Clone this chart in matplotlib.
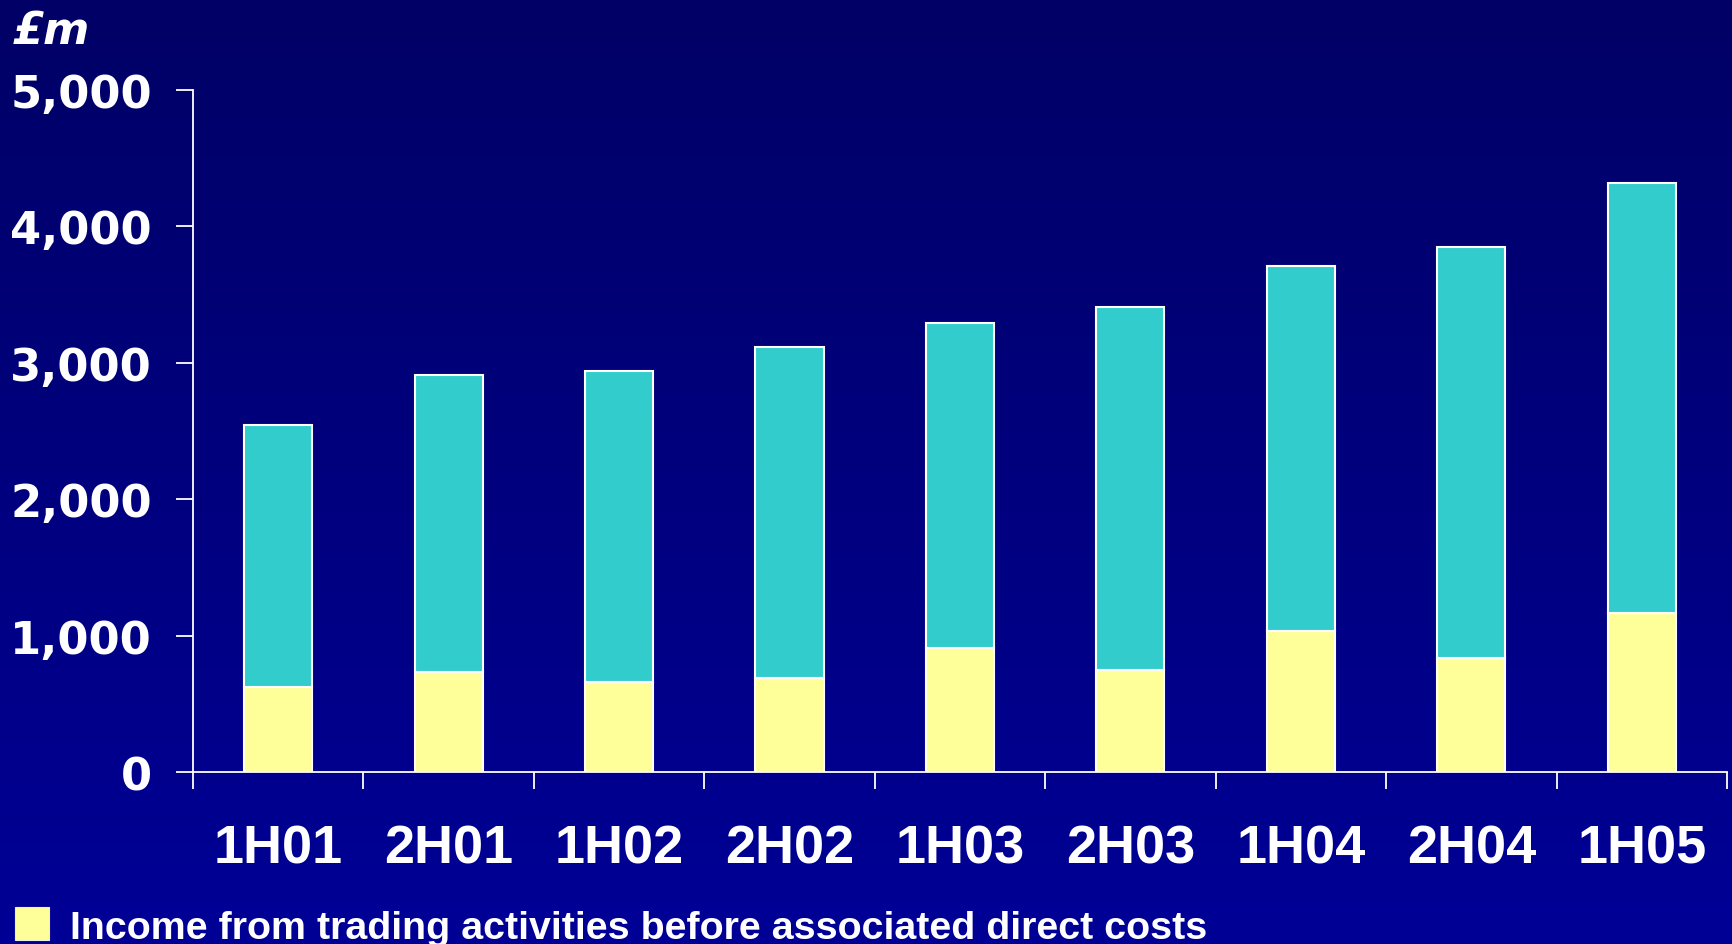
import numpy as np
import matplotlib
matplotlib.use("Agg")
import matplotlib.pyplot as plt
from matplotlib.colors import LinearSegmentedColormap
from matplotlib.patches import Rectangle

# half-year periods
periods = ["1H01", "2H01", "1H02", "2H02", "1H03", "2H03", "1H04", "2H04", "1H05"]
# total income per half (£m)
total_income = [2540, 2910, 2940, 3115, 3290, 3405, 3710, 3845, 4315]
# income from trading activities before associated direct costs (£m)
trading_income = [620, 735, 662, 690, 908, 750, 1037, 832, 1168]
legend_label = "Income from trading activities before associated direct costs"

yellow = "#FFFF99"
cyan = "#33CCCC"

fig = plt.figure(figsize=(17.32, 9.45), dpi=100)

# navy gradient background
bg = fig.add_axes([0, 0, 1, 1], zorder=-10)
grad = np.linspace(0, 1, 256).reshape(-1, 1)
cmap = LinearSegmentedColormap.from_list("navy", ["#000066", "#000096"])
bg.imshow(grad, aspect="auto", cmap=cmap, extent=[0, 1, 0, 1], origin="upper")
bg.axis("off")

ax = fig.add_axes([0.1114, 0.182, 0.8857, 0.722])
ax.set_facecolor("none")

x = np.arange(len(periods))
other = np.array(total_income) - np.array(trading_income)
ax.bar(x, trading_income, width=0.4, color=yellow, edgecolor="white", linewidth=1.5)
ax.bar(x, other, width=0.4, bottom=trading_income, color=cyan,
       edgecolor="white", linewidth=1.5)

ax.set_xlim(-0.5, len(periods) - 0.5)
ax.set_ylim(0, 5000)

for side in ["top", "right"]:
    ax.spines[side].set_visible(False)
for side in ["left", "bottom"]:
    ax.spines[side].set_color("white")
    ax.spines[side].set_linewidth(1.3)

ax.set_yticks([0, 1000, 2000, 3000, 4000, 5000])
ax.set_yticklabels(["0", "1,000", "2,000", "3,000", "4,000", "5,000"],
                   fontfamily="DejaVu Sans", fontweight="bold", fontsize=32.3,
                   color="white")
ax.tick_params(axis="y", direction="out", length=12, width=1.3,
               color="white", pad=17.5)

ax.set_xticks(x)
ax.set_xticklabels(periods, fontfamily="Liberation Sans", fontweight="bold",
                   fontsize=39, color="white")
ax.tick_params(axis="x", which="major", length=0, pad=37)
ax.set_xticks(np.arange(-0.5, len(periods)), minor=True)
ax.tick_params(axis="x", which="minor", direction="out", length=12,
               width=1.3, color="white")

fig.text(0.0075, 0.953, "£m", fontfamily="DejaVu Sans", fontweight="bold",
         fontstyle="italic", fontsize=32, color="white", va="baseline")

# legend key
fig.patches.append(Rectangle((15 / 1732, 1 - 941 / 945), 34 / 1732, 33 / 945,
                             transform=fig.transFigure, facecolor=yellow,
                             edgecolor="#EEEEDD", linewidth=0.8))
fig.text(70 / 1732, 1 - 939 / 945, legend_label, fontfamily="Liberation Sans",
         fontweight="bold", fontsize=28.4, color="white", va="baseline")

fig.savefig("out.png", dpi=100)
